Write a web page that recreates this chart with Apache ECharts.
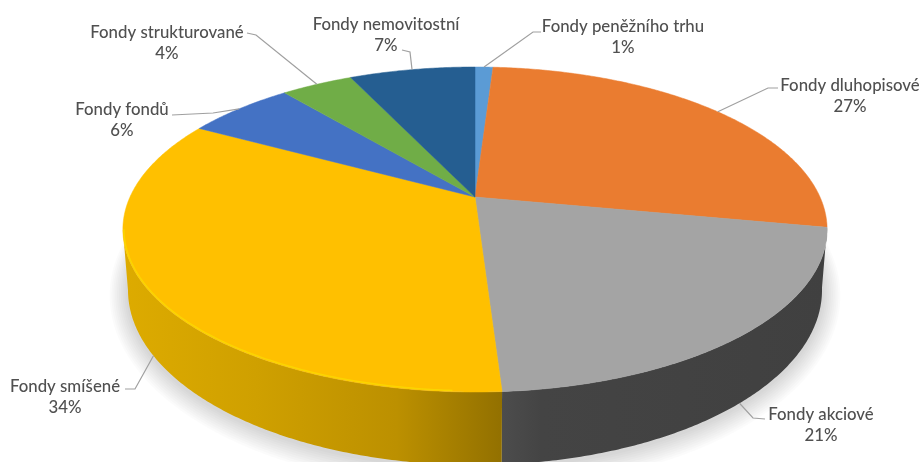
<!DOCTYPE html>
<html>
<head>
<meta charset="utf-8">
<style>html,body{margin:0;padding:0;background:#fff}#chart{width:923px;height:462px}</style>
<script src="https://cdn.jsdelivr.net/npm/echarts@6/dist/echarts.min.js"></script>
</head>
<body>
<div id="chart"></div>
<script>
// Slices run clockwise from twelve o'clock.
const categories = ['Fondy peněžního trhu', 'Fondy dluhopisové', 'Fondy akciové', 'Fondy smíšené', 'Fondy fondů', 'Fondy strukturované', 'Fondy nemovitostní'];
const shares = [1, 27, 21, 34, 6, 4, 7];
const sliceColors = ['#5B9BD5', '#EA7C30', '#A4A4A4', '#FFC000', '#4472C4', '#70AD47', '#255E91'];

// Perspective disc: the near edge is larger than the far edge.
const TILT = 0.2;
const TOP_FACE = { cx: 475, cy: 197, rx: 345, ry: 156 };
const BOTTOM_FACE = { cx: 475, cy: 255, rx: 340, ry: 168 };
const WALL_FROM = 100.8, WALL_TO = 258.5;

function project(face, deg) {
  const t = deg * Math.PI / 180, x = Math.sin(t), y = -Math.cos(t), w = 1 - TILT * y;
  return [face.cx + face.rx * x / w, face.cy + face.ry * y / w];
}
function arc(face, from, to) {
  const pts = [], n = Math.max(1, Math.ceil(Math.abs(to - from) * 2));
  for (let i = 0; i <= n; i++) pts.push(project(face, from + (to - from) * i / n));
  return pts;
}
const total = shares.reduce((a, b) => a + b, 0);
const starts = [];
shares.reduce((sum, v, i) => { starts[i] = sum / total * 360; return sum + v; }, 0);
const endOf = i => starts[i] + shares[i] / total * 360;
const midOf = i => (starts[i] + endOf(i)) / 2;

// Text centre and the elbow of each leader, in slice order.
const labelLayout = [
  { x: 623, y: 37, knee: [[541, 32], [533, 32]] },
  { x: 850, y: 96, knee: [[778, 88], [768, 88]] },
  { x: 821, y: 425, knee: [[765, 419], [753, 418]] },
  { x: 65, y: 397, knee: [[125, 389], [135, 389]] },
  { x: 122, y: 120, knee: [[172, 115], [213, 113]] },
  { x: 167, y: 43, knee: [[247, 33], [256, 35]] },
  { x: 386, y: 35, knee: [[402, 50], [410, 52]] }
];
// Wall shading, from the front seam outwards.
const wallShades = {
  2: { far: 826, stops: [[0, '#4C4C4C'], [0.12, '#444444'], [1, '#404040']] },
  3: { far: 123, stops: [[0, '#927000'], [0.28, '#BC9000'], [0.65, '#CFA000'], [1, '#DDAB00']] }
};
const SEAM_X = 503;
const HALO_LAYERS = 10;

// Ground shadow: stacked translucent rings that fade outwards.
function renderHalo(params) {
  const k = params.dataIndex + 1;
  const grow = k * 1.8;
  return {
    type: 'polygon', silent: true,
    shape: { points: arc({ cx: BOTTOM_FACE.cx, cy: BOTTOM_FACE.cy + 2, rx: BOTTOM_FACE.rx + grow, ry: BOTTOM_FACE.ry + grow }, 0, 360) },
    style: { fill: 'rgba(0,0,0,0.016)' }
  };
}

function renderWall(params) {
  const i = params.dataIndex;
  const from = Math.max(starts[i], WALL_FROM), to = Math.min(endOf(i), WALL_TO);
  const children = [];
  if (to > from) {
    const shade = wallShades[i];
    children.push({
      type: 'polygon', silent: true,
      shape: { points: arc(TOP_FACE, from, to).concat(arc(BOTTOM_FACE, to, from)) },
      style: {
        fill: shade ? {
          type: 'linear', global: true,
          x: SEAM_X, y: 0, x2: shade.far, y2: 0,
          colorStops: shade.stops.map(s => ({ offset: s[0], color: s[1] }))
        } : sliceColors[i]
      }
    });
  }
  return { type: 'group', children };
}

function renderFace(params, api) {
  const i = params.dataIndex;
  const pts = [[TOP_FACE.cx, TOP_FACE.cy]].concat(arc(TOP_FACE, starts[i], endOf(i)));
  const children = [{
    type: 'polygon', silent: true,
    shape: { points: pts },
    style: { fill: sliceColors[i], stroke: sliceColors[i], lineWidth: 0.5 }
  }];
  // Bright bevel where the yellow face meets its wall.
  if (i === 3) {
    children.push({
      type: 'polyline', silent: true,
      shape: { points: arc({ cx: TOP_FACE.cx, cy: TOP_FACE.cy, rx: TOP_FACE.rx - 1, ry: TOP_FACE.ry - 1 }, 183, WALL_TO) },
      style: { fill: 'none', stroke: '#FBD500', lineWidth: 1.5 }
    });
  }
  const lay = labelLayout[i];
  const front = midOf(i) > WALL_FROM && midOf(i) < WALL_TO;
  const anchor = project(front ? BOTTOM_FACE : TOP_FACE, midOf(i));
  children.push({
    type: 'polyline', silent: true,
    shape: { points: lay.knee.concat([anchor]) },
    style: { fill: 'none', stroke: '#A0A0A0', lineWidth: 1.2 }
  });
  children.push({
    type: 'text', silent: true,
    style: {
      x: lay.x, y: lay.y,
      text: categories[i] + '\n' + api.value(0) + '%',
      align: 'center', verticalAlign: 'middle',
      font: '500 16.8px Lato', lineHeight: 21.5, fill: '#505050'
    }
  });
  return { type: 'group', children };
}

const chart = echarts.init(document.getElementById('chart'), null, { renderer: 'canvas' });
chart.setOption({
  animation: false,
  backgroundColor: '#fff',
  series: [
    { type: 'custom', coordinateSystem: 'none', data: Array.from({ length: HALO_LAYERS }, (_, k) => k), renderItem: renderHalo, z: 0, silent: true },
    { type: 'custom', coordinateSystem: 'none', data: shares, renderItem: renderWall, z: 1, silent: true },
    { type: 'custom', coordinateSystem: 'none', data: shares, renderItem: renderFace, z: 2, silent: true }
  ]
});
</script>
</body>
</html>
